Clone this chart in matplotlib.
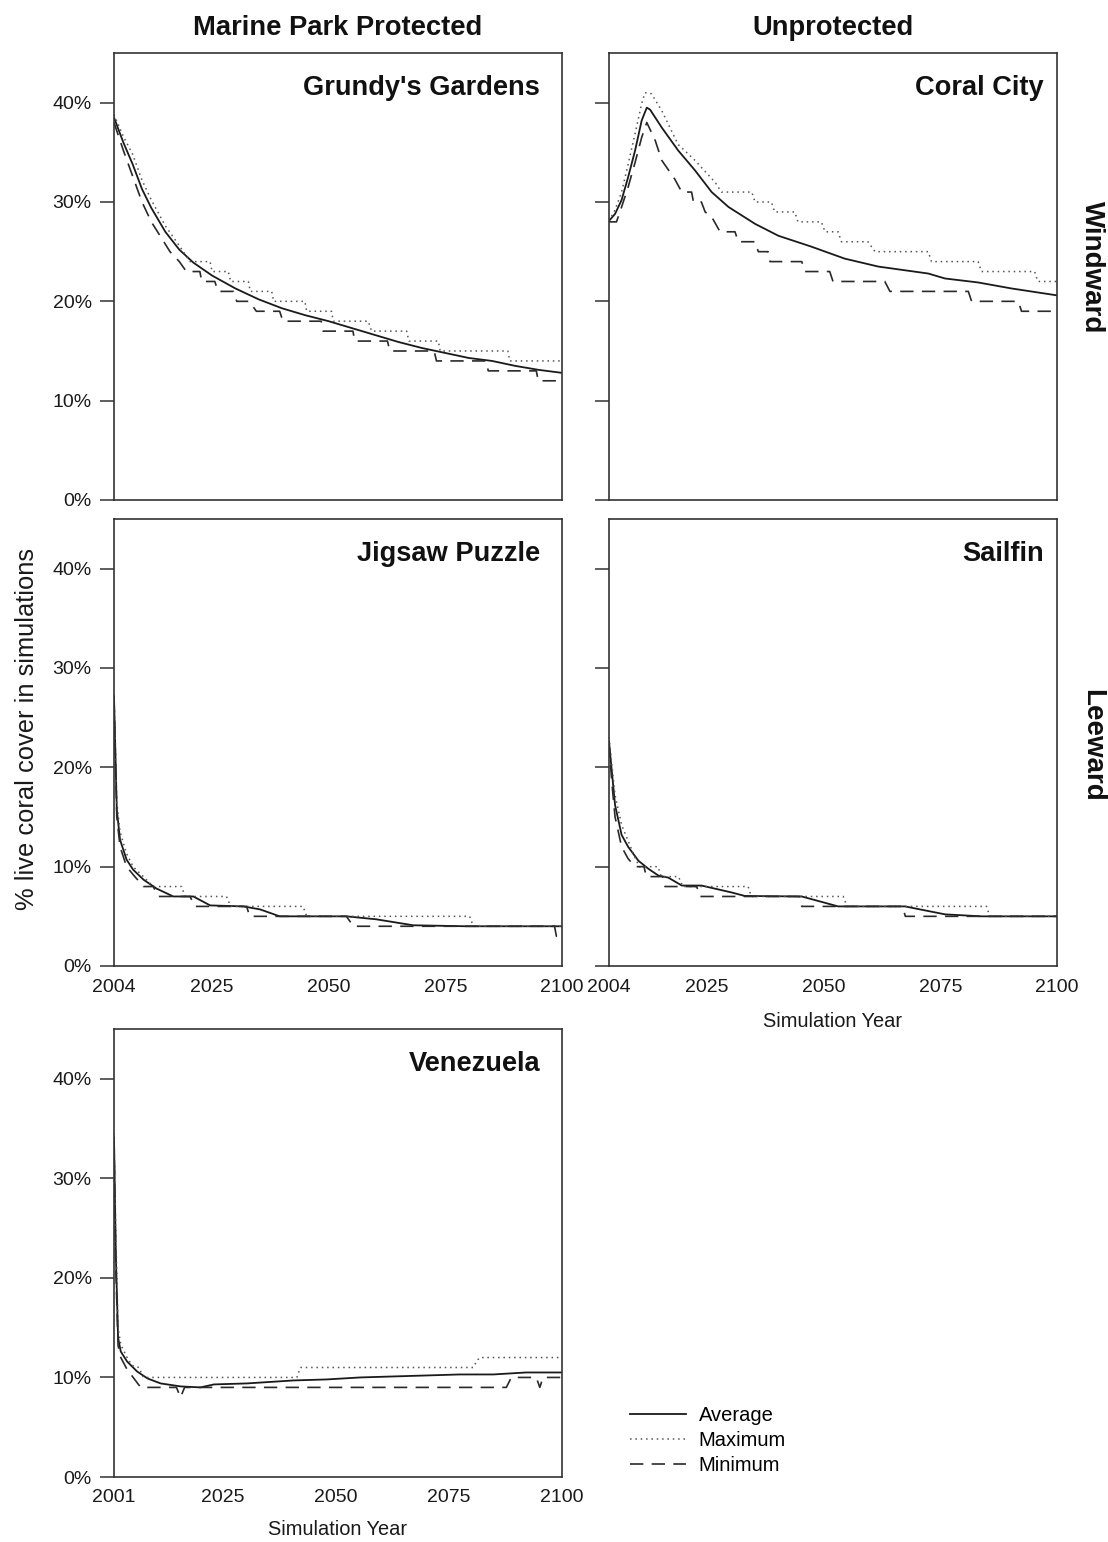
import matplotlib
matplotlib.use('Agg')
matplotlib.rcParams['font.family'] = ['Liberation Sans', 'DejaVu Sans']
matplotlib.rcParams['font.size'] = 14
import matplotlib.pyplot as plt

# ---- Grundy's Gardens (protected, windward)
gg_avg_yr = [2004, 2006, 2008, 2010, 2012, 2015, 2018, 2021, 2025, 2030, 2035, 2040, 2045, 2050,
             2055, 2060, 2065, 2070, 2075, 2080, 2085, 2090, 2095, 2100]
gg_avg = [38.5, 36.0, 33.8, 31.3, 29.4, 27.0, 25.2, 23.9, 22.6, 21.3, 20.2, 19.3, 18.6, 18.0,
          17.3, 16.6, 15.9, 15.3, 14.8, 14.3, 14.0, 13.5, 13.1, 12.8]
gg_max_yr = [2004, 2006, 2008, 2010, 2012, 2015, 2018, 2020.3, 2024.6, 2025, 2028.5, 2029, 2032.8,
             2033.2, 2037.8, 2038.2, 2044.9, 2045.3, 2050.6, 2051, 2058.5, 2059.2, 2066.7, 2067.2,
             2073.5, 2073.9, 2088.4, 2088.8, 2100]
gg_max = [38.8, 36.6, 34.8, 32.2, 30.2, 27.6, 25.6, 24, 24, 23, 23, 22, 22,
          21, 21, 20, 20, 19, 19, 18, 18, 17, 17, 16,
          16, 15, 15, 14, 14]
gg_min_yr = [2004, 2006, 2008, 2010, 2012, 2014, 2016, 2018, 2019.5, 2022.4, 2022.8, 2025.6, 2026.3,
             2029.6, 2030.3, 2033.0, 2034.5, 2039.5, 2040.2, 2048.4, 2048.8, 2055.2, 2055.6, 2062.6,
             2063.1, 2072.6, 2073.1, 2083.7, 2084.2, 2094.5, 2094.9, 2100]
gg_min = [38.0, 35.2, 32.6, 30.0, 28.0, 26.5, 25.0, 24.0, 23, 23, 22, 22, 21,
          21, 20, 20, 19, 19, 18, 18, 17, 17, 16, 16,
          15, 15, 14, 14, 13, 13, 12, 12]

# ---- Coral City (unprotected, windward)
cc_avg_yr = [2004, 2005.3, 2006.7, 2008.1, 2009.6, 2011.0, 2012.1, 2012.8, 2015.3, 2018.8, 2022.4,
             2026.0, 2029.6, 2035.3, 2040.3, 2047.4, 2054.5, 2061.7, 2072.4, 2076.0, 2083.1, 2090.2, 2100]
cc_avg = [28.1, 28.8, 30.2, 32.5, 35.2, 38.2, 39.5, 39.3, 37.5, 35.2, 33.2,
          31.0, 29.5, 27.8, 26.6, 25.5, 24.3, 23.5, 22.8, 22.3, 21.9, 21.3, 20.6]
cc_max_yr = [2004, 2005.3, 2006.7, 2008.1, 2009.6, 2011.0, 2011.7, 2013.1, 2015.3, 2018.8, 2022.4,
             2026.7, 2028.1, 2034.6, 2035.3, 2038.8, 2039.5, 2043.8, 2044.5, 2049.5, 2050.3, 2053.1,
             2053.8, 2059.5, 2061.0, 2072.4, 2073.1, 2083.1, 2083.8, 2095.2, 2095.9, 2100]
cc_max = [28.1, 29.2, 31.0, 33.8, 36.9, 39.9, 41.0, 40.9, 39.2, 35.8, 34.2,
          32.0, 31, 31, 30, 30, 29, 29, 28, 28, 27, 27,
          26, 26, 25, 25, 24, 24, 23, 23, 22, 22]
cc_min_yr = [2004, 2005.6, 2006.7, 2008.1, 2009.6, 2011.0, 2012.1, 2013.9, 2015.3, 2018.1, 2019.6,
             2021.7, 2022.1, 2023.8, 2024.6, 2026.0, 2027.8, 2031.0, 2031.7, 2035.3, 2036.0, 2038.1,
             2038.5, 2045.3, 2046.0, 2051.3, 2052.0, 2063.1, 2064.2, 2081.0, 2081.7, 2091.7, 2092.4, 2100]
cc_min = [28.0, 28.0, 29.5, 31.5, 34.0, 36.5, 38.0, 36.2, 34.2, 32.3, 31,
          31, 30, 30, 29, 28.5, 27, 27, 26, 26, 25, 25,
          24, 24, 23, 23, 22, 22, 21, 21, 20, 20, 19, 19]

# ---- Jigsaw Puzzle (protected, leeward)
jp_avg_yr = [2004, 2004.6, 2005.3, 2006.7, 2008.1, 2010.3, 2013.1, 2016.7, 2021.0, 2024.6, 2031.7,
             2035.3, 2039.5, 2053.8, 2060.2, 2068.1, 2079.5, 2100]
jp_avg = [27.1, 15.7, 12.7, 10.7, 9.7, 8.7, 7.8, 7.0, 7.0, 6.1, 6.0,
          5.7, 5.0, 5.0, 4.7, 4.1, 4.0, 4.0]
jp_max_yr = [2004, 2004.6, 2005.3, 2006.7, 2008.1, 2010.3, 2012.4, 2018.5, 2019.2, 2028.1, 2029.0,
             2044.5, 2045.3, 2080.2, 2081.0, 2100]
jp_max = [27.3, 16.5, 13.5, 11.3, 10.0, 9.0, 8, 8, 7, 7, 6,
          6, 5, 5, 4, 4]
jp_min_yr = [2004, 2004.6, 2005.3, 2006.7, 2008.1, 2010.3, 2012.4, 2013.5, 2020.3, 2021.3, 2032.4,
             2033.1, 2053.8, 2055.3, 2098.4, 2098.8, 2100]
jp_min = [26.9, 15.0, 12.0, 10.0, 9.2, 8, 8, 7, 7, 6, 6,
          5, 5, 4, 4, 3, 3]

# ---- Sailfin (unprotected, leeward)
sf_avg_yr = [2004, 2004.6, 2005.3, 2006.7, 2008.1, 2010.3, 2012.4, 2014.6, 2016.7, 2019.6, 2023.8,
             2030.3, 2033.1, 2045.3, 2053.1, 2067.4, 2076.0, 2083.8, 2100]
sf_avg = [22.6, 19.6, 16.2, 13.2, 12.0, 10.6, 9.8, 9.1, 8.9, 8.1, 8.1,
          7.4, 7.05, 7.0, 6.0, 6.0, 5.2, 5.0, 5.0]
sf_max_yr = [2004, 2004.6, 2005.3, 2006.7, 2008.1, 2009.5, 2010.5, 2014.5, 2015.2, 2018.9, 2019.8,
             2033.8, 2034.5, 2054.2, 2055.0, 2084.9, 2085.6, 2100]
sf_max = [23.0, 20.3, 17.2, 14.2, 12.6, 11, 10, 10, 9, 9, 8,
          8, 7, 7, 6, 6, 5, 5]
sf_min_yr = [2004, 2004.6, 2005.3, 2006.7, 2008.1, 2009.6, 2011.5, 2012.0, 2015.5, 2016.0, 2022.8,
             2023.5, 2044.8, 2045.3, 2066.9, 2067.5, 2100]
sf_min = [22.4, 18.5, 15.0, 12.0, 10.8, 10, 10, 9, 9, 8, 8,
          7, 7, 6, 6, 5, 5]

# ---- Venezuela (protected)
vz_avg_yr = [2001, 2001.4, 2001.9, 2002.5, 2003.9, 2006.1, 2008.4, 2011.3, 2015.7, 2020.1, 2023.1,
             2030.4, 2040.7, 2048.0, 2055.4, 2062.7, 2070.1, 2077.4, 2084.8, 2092.1, 2100]
vz_avg = [34.1, 22.4, 14.0, 12.6, 11.6, 10.6, 9.9, 9.4, 9.1, 9.0, 9.3,
          9.4, 9.7, 9.8, 10.0, 10.1, 10.2, 10.3, 10.3, 10.5, 10.5]
vz_max_yr = [2001, 2001.4, 2001.9, 2002.5, 2003.9, 2005.0, 2006.5, 2007.5, 2041.4, 2042.2, 2080.4,
             2081.1, 2081.8, 2100]
vz_max = [34.5, 24.5, 15.0, 13.3, 12.0, 11.2, 11.0, 10, 10, 11, 11,
          11.6, 12, 12]
vz_min_yr = [2001, 2001.4, 2001.9, 2002.5, 2003.9, 2006.9, 2014.8, 2015.7, 2016.6, 2087.7, 2088.8,
             2094.3, 2095.1, 2095.8, 2100]
vz_min = [33.8, 21.0, 13.2, 12.0, 10.8, 9, 9, 8, 9, 9, 10,
          10, 9, 10, 10]

yticks = [0, 10, 20, 30, 40]
xticks_2004 = [2004, 2025, 2050, 2075, 2100]
xticks_2001 = [2001, 2025, 2050, 2075, 2100]

W, H = 1108, 1542
fig = plt.figure(figsize=(W / 100, H / 100), dpi=100)


def rect(x0, y0, x1, y1):
    # pixel box -> figure fraction
    return [x0 / W, 1 - y1 / H, (x1 - x0) / W, (y1 - y0) / H]


def panel(r, title, tx, d, xticks, ylab, xlab):
    ax = fig.add_axes(r)
    ax.plot(d[0], d[1], color='#1a1a1a', lw=1.3, label='Average')
    ax.plot(d[2], d[3], color='#555555', lw=1.1, ls=(0, (1, 2.5)), label='Maximum')
    ax.plot(d[4], d[5], color='#2a2a2a', lw=1.2, ls=(0, (8, 5)), label='Minimum')
    ax.set_xlim(xticks[0], xticks[-1])
    ax.set_ylim(0, 45)
    ax.set_yticks(yticks)
    ax.set_xticks(xticks)
    if ylab:
        ax.set_yticklabels(['%d%%' % v for v in yticks])
    else:
        ax.set_yticklabels([])
    if xlab:
        ax.set_xticklabels([str(v) for v in xticks])
    else:
        ax.set_xticklabels([])
    ax.tick_params(axis='y', length=10, width=1.1, color='#333333', pad=6, labelcolor='#1a1a1a')
    ax.tick_params(axis='x', length=0, pad=9, labelcolor='#1a1a1a')
    for s in ax.spines.values():
        s.set_color('#333333')
        s.set_linewidth(1.2)
    ax.text(tx, 0.922, title, transform=ax.transAxes, ha='right', va='center',
            fontsize=19.6, fontweight='bold', color='#111111')
    return ax


panel(rect(114, 53, 562, 500), "Grundy's Gardens", 0.951,
      (gg_avg_yr, gg_avg, gg_max_yr, gg_max, gg_min_yr, gg_min), xticks_2004, True, False)
panel(rect(609, 53, 1057, 500), 'Coral City', 0.971,
      (cc_avg_yr, cc_avg, cc_max_yr, cc_max, cc_min_yr, cc_min), xticks_2004, False, False)
panel(rect(114, 519, 562, 966), 'Jigsaw Puzzle', 0.951,
      (jp_avg_yr, jp_avg, jp_max_yr, jp_max, jp_min_yr, jp_min), xticks_2004, True, True)
ax_sf = panel(rect(609, 519, 1057, 966), 'Sailfin', 0.971,
              (sf_avg_yr, sf_avg, sf_max_yr, sf_max, sf_min_yr, sf_min), xticks_2004, False, True)
ax_sf.set_xlabel('Simulation Year', labelpad=12, color='#1a1a1a', fontsize=14.4)
ax_vz = panel(rect(114, 1029, 562, 1477), 'Venezuela', 0.951,
              (vz_avg_yr, vz_avg, vz_max_yr, vz_max, vz_min_yr, vz_min), xticks_2001, True, True)
ax_vz.set_xlabel('Simulation Year', labelpad=10, color='#1a1a1a', fontsize=14.4)

# column / row headers
fig.text(338 / W, 1 - 28 / H, 'Marine Park Protected', ha='center', va='center',
         fontsize=19.7, fontweight='bold', color='#111111')
fig.text(833 / W, 1 - 28 / H, 'Unprotected', ha='center', va='center',
         fontsize=19.7, fontweight='bold', color='#111111')
fig.text(1092 / W, 1 - 267 / H, 'Windward', rotation=-90, ha='center', va='center',
         fontsize=20, fontweight='bold', color='#111111')
fig.text(1092 / W, 1 - 745 / H, 'Leeward', rotation=-90, ha='center', va='center',
         fontsize=20, fontweight='bold', color='#111111')
fig.text(27 / W, 1 - 729 / H, '% live coral cover in simulations', rotation=90,
         ha='center', va='center', fontsize=18.4, color='#1a1a1a')

h, l = ax_vz.get_legend_handles_labels()
fig.legend(h, l, loc='upper left', bbox_to_anchor=(630 / W, 1 - 1406 / H), frameon=False,
           handlelength=2.8, handletextpad=0.62, labelspacing=0.3, borderpad=0,
           borderaxespad=0, fontsize=14.5)

fig.savefig('out.png', dpi=100)
